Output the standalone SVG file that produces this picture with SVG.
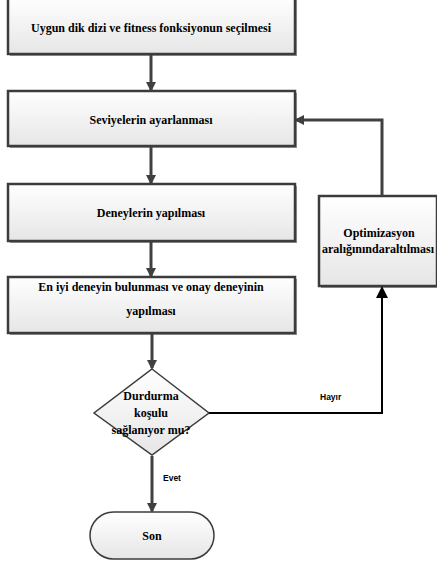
<svg xmlns="http://www.w3.org/2000/svg" width="437" height="563" viewBox="0 0 437 563">
<defs>
<linearGradient id="g" x1="0" y1="0" x2="0" y2="1">
<stop offset="0" stop-color="#ffffff"/>
<stop offset="1" stop-color="#e6e6e6"/>
</linearGradient>
<marker id="ag" markerWidth="10" markerHeight="10" refX="8" refY="5" orient="auto" markerUnits="userSpaceOnUse" viewBox="0 0 10 10">
<path d="M0,0 L10,5 L0,10 z" fill="#404040"/>
</marker>
</defs>
<style>
.box{fill:url(#g);stroke:#3c3c3c;stroke-width:2.5}
.sh{fill:#9a9a9a}
.t{font-family:"Liberation Serif","Times New Roman",serif;font-weight:bold;font-size:12px;fill:#000;text-anchor:middle}
.l{font-family:"Liberation Sans",sans-serif;font-weight:bold;font-size:8.5px;fill:#000}
.c{stroke:#404040;stroke-width:3;fill:none;marker-end:url(#ag)}
.k{stroke:#000;stroke-width:2;fill:none}
</style>
<rect width="437" height="563" fill="#fff"/>
<g id="n1">
<rect class="sh" x="10" y="-1" width="287" height="57"/>
<rect class="box" x="8" y="-3" width="287" height="57"/>
<text class="t" x="151" y="32">Uygun dik dizi ve fitness fonksiyonun seçilmesi</text>
</g>
<g id="n2">
<rect class="sh" x="10" y="93" width="287" height="55"/>
<rect class="box" x="8" y="91" width="287" height="55"/>
<text class="t" x="151" y="124">Seviyelerin ayarlanması</text>
</g>
<g id="n3">
<rect class="sh" x="10" y="186" width="287" height="57"/>
<rect class="box" x="8" y="184" width="287" height="57"/>
<text class="t" x="151" y="217">Deneylerin yapılması</text>
</g>
<g id="n4">
<rect class="sh" x="10" y="279" width="287" height="56"/>
<rect class="box" x="8" y="277" width="287" height="56"/>
<text class="t" x="151" y="291">En iyi deneyin bulunması ve onay deneyinin</text>
<text class="t" x="151" y="315">yapılması</text>
</g>
<g id="n5">
<polygon points="152,369 209,413 152,455 94,413" fill="url(#g)" stroke="#3c3c3c" stroke-width="1.5"/>
<text class="t" x="151" y="400">Durdurma</text>
<text class="t" x="151" y="417">koşulu</text>
<text class="t" x="151" y="434">sağlanıyor mu?</text>
</g>
<g id="n6">
<rect class="sh" x="321" y="198" width="118" height="90"/>
<rect class="box" x="319" y="196" width="118" height="90"/>
<text class="t" x="379" y="237">Optimizasyon</text>
<text class="t" x="378" y="253">aralığınındaraltılması</text>
</g>
<g id="n7">
<rect x="90" y="512" width="124" height="47" rx="23.5" fill="url(#g)" stroke="#3c3c3c" stroke-width="1.5"/>
<text class="t" x="152" y="540">Son</text>
</g>
<g id="connectors">
<line class="c" x1="151" y1="55" x2="151" y2="90"/>
<line class="c" x1="151" y1="147" x2="151" y2="183"/>
<line class="c" x1="151" y1="242" x2="151" y2="276"/>
<line class="c" x1="152" y1="334" x2="152" y2="368"/>
<line class="c" x1="152" y1="456" x2="152" y2="511"/>
<polyline class="c" points="382,196 382,120 296,120"/>
<polyline class="k" points="209,413 382,413 382,296"/>
<path d="M376,298 L382,286 L388,298 z" fill="#000"/>
<text class="l" x="320" y="400">Hayır</text>
<text class="l" x="163" y="481">Evet</text>
</g>
</svg>
